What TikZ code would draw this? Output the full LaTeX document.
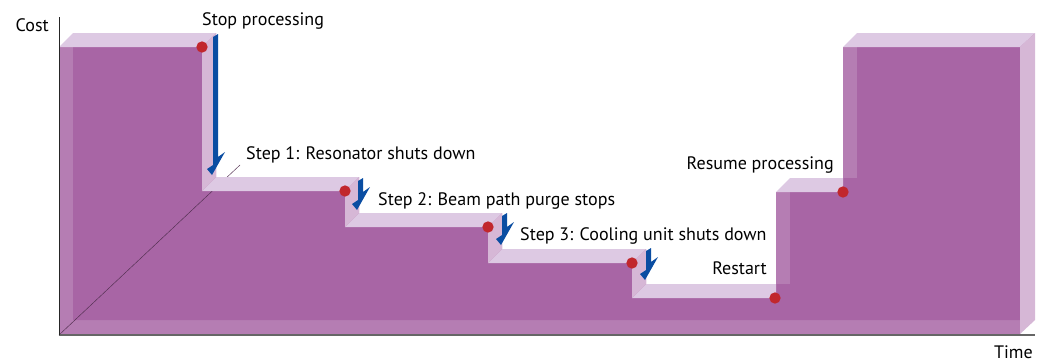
\documentclass[tikz,border=0pt]{standalone}
\usepackage{fontspec}
\setmainfont{PT Sans}
\definecolor{blockpurple}{RGB}{165,96,162}
\definecolor{toplight}{RGB}{221,201,227}
\definecolor{sidelight}{RGB}{214,183,214}
\definecolor{arrowblue}{RGB}{10,77,162}
\definecolor{dotred}{RGB}{193,39,45}
\tikzset{
  face/.style={fill=blockpurple,fill opacity=0.82},
  topface/.style={fill=toplight},
  sideface/.style={fill=sidelight},
  dot/.style={circle,fill=dotred,inner sep=0pt,minimum size=0.34cm},
  lbl/.style={inner sep=0pt,font=\fontsize{15.4}{18}\selectfont,anchor=base west}
}
\newcommand{\steparrow}[3]{%
  \fill[arrowblue] (#1,#2+2) -- (#1+5,#2-1) -- (#1+5,#3-18) -- (#1+12,#3-23)
    -- (#1-1,#3) -- (#1-6,#3-6) -- (#1,#3-10) -- cycle;}

\begin{document}
\begin{tikzpicture}[x=0.03cm,y=-0.03cm]
\useasboundingbox (0,0) rectangle (1039,361);

\foreach \d in {14,0}
  \fill[face,shift={(\d,-\d)}] (59,334) -- (59,47) -- (202,47) -- (202,191) -- (345,191)
    -- (345,227) -- (488,227) -- (488,263) -- (632,263) -- (632,298) -- (776,298)
    -- (776,192) -- (843,192) -- (843,47) -- (1020,47) -- (1020,334) -- cycle;

\coordinate (o) at (59,335);
\coordinate (zend) at (240,165);
\coordinate (ytop) at (59,17);
\coordinate (xend) at (1035,335);
\draw[blockpurple!50!black,line width=0.4pt] (o) -- (zend);

\foreach \a/\b/\c/\y in {59/202/216/47,202/345/359/191,345/488/502/227,488/632/646/263,
                          632/776/776/298,776/843/843/192,843/1020/1035/47}
  \fill[topface] (\a,\y) -- (\b,\y) -- (\c,\y-14) -- (\a+14,\y-14) -- cycle;
\foreach \x/\u/\l in {202/47/191,345/191/227,488/227/263,632/263/298}
  \fill[sideface] (\x,\u) -- (\x+14,\u-14) -- (\x+14,\l-14) -- (\x,\l) -- cycle;
\fill[sideface] (1020,47) -- (1035,33) -- (1035,320) -- (1020,334) -- cycle;

\draw[black!60,line width=1.5pt] (o) -- (xend);
\draw[black!85,line width=0.6pt] (o) -- (ytop);

\steparrow{213}{35}{175}
\steparrow{358}{179}{210}
\steparrow{502}{214}{245}
\steparrow{646}{249}{280}

\node[dot] (d0) at (202,47) {};
\node[dot] (d1) at (345,191) {};
\node[dot] (d2) at (488,227) {};
\node[dot] (d3) at (632,263) {};
\node[dot] (d4) at (775,298) {};
\node[dot] (d5) at (843,192) {};

\node[lbl] (stop) at (202,25) {Stop processing};
\node[lbl,anchor=base east] (cost) at (49,31) {Cost};
\node[lbl] (step1) at (246,159) {Step 1: Resonator shuts down};
\node[lbl] (step2) at (378,205) {Step 2: Beam path purge stops};
\node[lbl] (step3) at (520,240) {Step 3: Cooling unit shuts down};
\node[lbl,anchor=base east] (restart) at (767,274) {Restart};
\node[lbl,anchor=base east] (resume) at (834,169) {Resume processing};
\node[lbl,anchor=base east] (time) at (1033,358) {Time};
\end{tikzpicture}
\end{document}
